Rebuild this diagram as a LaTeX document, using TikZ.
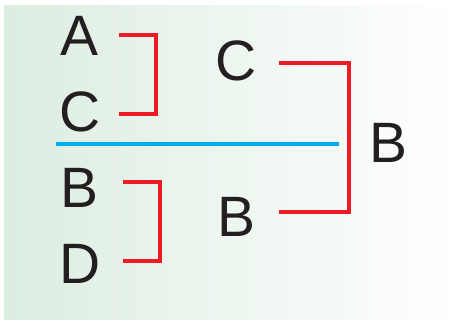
\documentclass[tikz,border=0pt]{standalone}
\usepackage{fontspec}
\setmainfont{Liberation Sans}
\definecolor{pairred}{HTML}{ED1C24}
\definecolor{cutblue}{HTML}{00AEEF}
\definecolor{inkblack}{HTML}{231F20}
\definecolor{bgreen}{HTML}{DCEDE1}
\begin{document}
\begin{tikzpicture}[x=0.02cm, y=-0.02cm, line join=miter,
		letter/.style={anchor=base, inner sep=0pt, text=inkblack, font=\fontsize{32.4}{36}\selectfont},
		bracket/.style={draw=pairred, line width=1.8pt},
		cut/.style={draw=cutblue, line width=2.2pt}]
	\useasboundingbox (0,0) rectangle (457,322);
	\shade[left color=bgreen, right color=white] (4,5) rectangle (457,319);
	% letters
	\node[letter] (A) at (79,55) {A};
	\node[letter] (C1) at (80,131) {C};
	\node[letter] (B1) at (79,207) {B};
	\node[letter] (D) at (80,283) {D};
	\node[letter] (C2) at (236,80) {C};
	\node[letter] (B2) at (236,236) {B};
	\node[letter] (B3) at (388,162) {B};
	% bracket ends
	\coordinate (ka) at (119,35);   \coordinate (kc) at (119,114);
	\coordinate (kb) at (123,182);  \coordinate (kd) at (123,261);
	\coordinate (kc2) at (279,63);  \coordinate (kb2) at (279,212);
	\coordinate (cutl) at (56,144); \coordinate (cutr) at (339,144);
	\draw[bracket] (ka) -- ++(37,0) |- (kc);
	\draw[bracket] (kb) -- ++(37,0) |- (kd);
	\draw[bracket] (kc2) -- ++(70,0) |- (kb2);
	\draw[cut] (cutl) -- (cutr);
\end{tikzpicture}
\end{document}
